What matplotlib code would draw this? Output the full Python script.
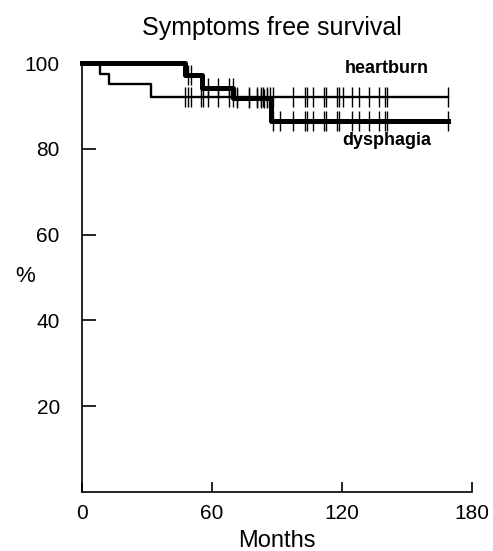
import numpy as np
import matplotlib.pyplot as plt

plt.rcParams['font.family'] = ['Liberation Sans', 'DejaVu Sans']

# Kaplan-Meier steps (months, % free of symptoms)
heartburn_times = [0, 8.3, 12.5, 32, 169]
heartburn_surv = [100, 97.4, 95.1, 92.1, 92.1]
dysphagia_times = [0, 47.5, 55.5, 69.8, 87.1, 169]
dysphagia_surv = [100, 97.3, 94.3, 91.8, 86.5, 86.5]

# censored observations
heartburn_censor = [47.5, 49, 50.5, 55, 56, 58, 63, 68, 69.5, 71.5, 77, 81, 82.5,
                    83.5, 85.5, 87, 88, 97.5, 103, 104, 106.5, 111.5, 112.5, 117.5,
                    118.5, 120.5, 124.5, 128, 132.5, 137, 140, 140.8, 169]
dysphagia_censor = [49, 50.5, 58, 63, 68, 69.5, 71.5, 77, 81, 82.5, 84, 85.5, 88,
                    91.5, 97.5, 103, 104, 106.5, 111.5, 112.5, 117.5, 118.5, 124.5,
                    128, 132.5, 137, 140, 140.8, 169]

x_ticks = [0, 60, 120, 180]
y_ticks = [20, 40, 60, 80, 100]


def level_at(times, surv, t):
    i = np.searchsorted(times, t, side='right') - 1
    return np.asarray(surv)[i]


fig = plt.figure(figsize=(4.93, 5.51), dpi=100)
ax = fig.add_axes([0.1663, 0.1071, 0.791, 0.7805])

ax.step(heartburn_times, heartburn_surv, where='post', color='black', lw=1.7, clip_on=False)
ax.step(dysphagia_times, dysphagia_surv, where='post', color='black', lw=3.6, clip_on=False)

for times, surv, cens in [(heartburn_times, heartburn_surv, heartburn_censor),
                          (dysphagia_times, dysphagia_surv, dysphagia_censor)]:
    lv = level_at(times, surv, cens)
    ax.vlines(cens, lv - 2.3, lv + 2.3, color='black', lw=1.0, clip_on=False)

ax.text(140.8, 98.8, 'heartburn', fontsize=13, fontweight='bold', ha='center', va='center')
ax.text(140.5, 82.0, 'dysphagia', fontsize=13, fontweight='bold', ha='center', va='center')

ax.set_xlim(0, 180)
ax.set_ylim(0, 100.3)
ax.set_xticks(x_ticks)
ax.set_yticks(y_ticks)
ax.spines['top'].set_visible(False)
ax.spines['right'].set_visible(False)
for s in ['left', 'bottom']:
    ax.spines[s].set_linewidth(1.2)
ax.tick_params(axis='x', direction='in', length=7, width=1.2, labelsize=15, pad=9)
ax.tick_params(axis='y', direction='in', length=10, width=1.2, labelsize=15, pad=16)

ax.set_xlabel('Months', fontsize=17, labelpad=5)
ax.set_ylabel('%', fontsize=16, rotation=0, va='center', ha='center')
ax.yaxis.set_label_coords(-0.145, 0.5)
fig.text(0.552, 0.949, 'Symptoms free survival', fontsize=18, ha='center', va='center')

fig.savefig('out.png', dpi=100)
